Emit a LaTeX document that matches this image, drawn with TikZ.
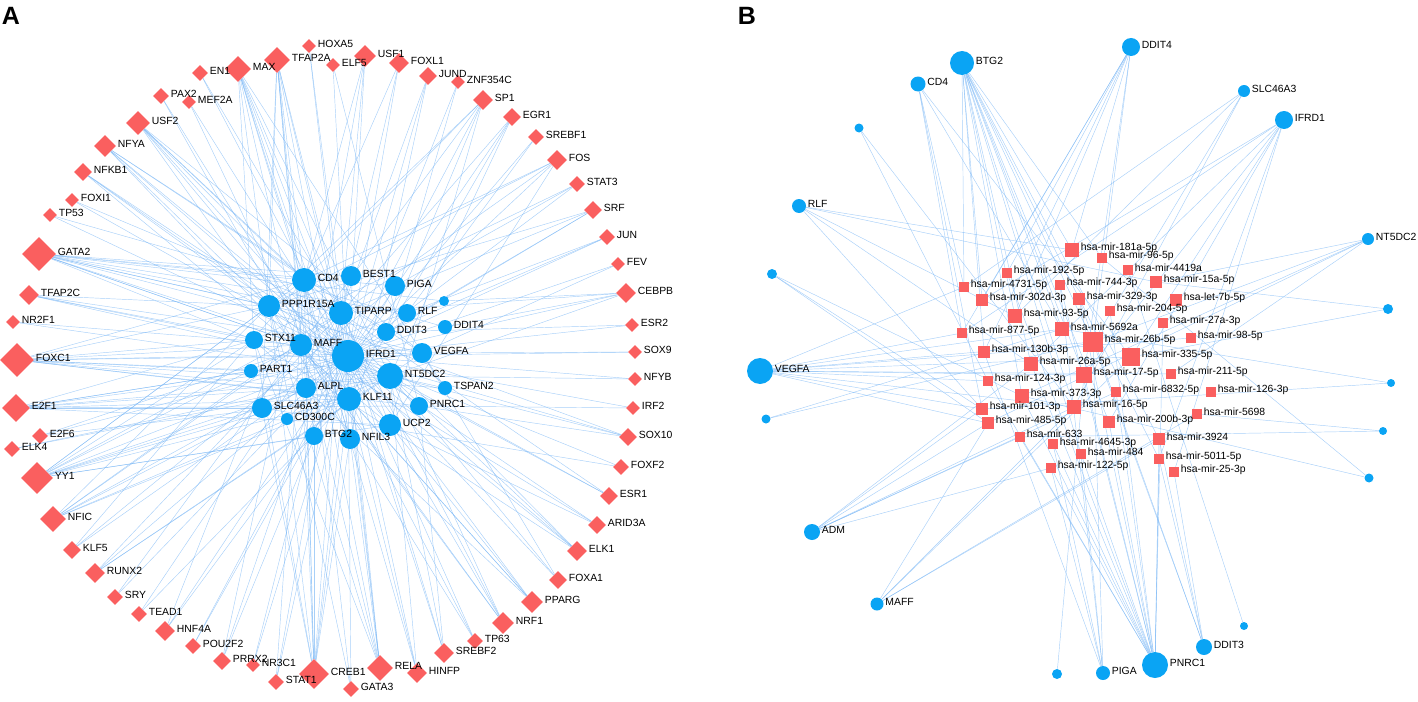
\documentclass[tikz,border=0pt]{standalone}
\usepackage{fontspec}
\setmainfont{Liberation Sans}
\usetikzlibrary{shapes.geometric}
\definecolor{tfred}{RGB}{250,95,95}
\definecolor{gblue}{RGB}{10,164,244}
\definecolor{eblue}{RGB}{110,176,244}
\pgfdeclarelayer{bg}
\pgfsetlayers{bg,main}
\newcommand\lnk[2]{\foreach \g in {#2}{\draw[edge] (#1) -- (\g);}}
\begin{document}
\begin{tikzpicture}[x=1pt,y=-1pt, font=\fontsize{10.4}{12}\selectfont,
 tf/.style={diamond, aspect=1, fill=tfred, inner sep=0pt, minimum size=#1},
 gn/.style={circle, fill=gblue, inner sep=0pt, minimum size=#1},
 mi/.style={rectangle, fill=tfred, inner sep=0pt, minimum size=#1},
 edge/.style={draw=eblue, line width=0.45pt, opacity=0.6},
 panel/.style={font=\fontsize{25}{30}\selectfont\bfseries, inner sep=0pt},
 lab/.style={anchor=west, inner sep=0.5pt, xshift=1pt, yshift=2pt}]
\useasboundingbox (0,0) rectangle (1418,701);

\node[panel] (labA) at (11,16) {A};
\node[panel] (labB) at (747,16) {B};

% ---------- Panel A: transcription factors ----------
\node[tf=14] (tHOXA5) at (309,46) {};
\node[tf=26] (tTFAP2A) at (277,60) {};
\node[tf=14] (tELF5) at (333,65) {};
\node[tf=26] (tMAX) at (238,69) {};
\node[tf=16] (tEN1) at (200,73) {};
\node[tf=16] (tPAX2) at (161,96) {};
\node[tf=14] (tMEF2A) at (189,102) {};
\node[tf=24] (tUSF2) at (138,123) {};
\node[tf=22] (tNFYA) at (105,146) {};
\node[tf=18] (tNFKB1) at (83,172) {};
\node[tf=14] (tFOXI1) at (72,200) {};
\node[tf=14] (tTP53) at (50,215) {};
\node[tf=34] (tGATA2) at (39,254) {};
\node[tf=20] (tTFAP2C) at (29,295) {};
\node[tf=14] (tNR2F1) at (13,322) {};
\node[tf=34] (tFOXC1) at (17,360) {};
\node[tf=28] (tE2F1) at (16,408) {};
\node[tf=16] (tE2F6) at (40,436) {};
\node[tf=16] (tELK4) at (12,449) {};
\node[tf=32] (tYY1) at (37,478) {};
\node[tf=26] (tNFIC) at (53,519) {};
\node[tf=18] (tKLF5) at (72,550) {};
\node[tf=20] (tRUNX2) at (95,573) {};
\node[tf=16] (tSRY) at (115,597) {};
\node[tf=16] (tTEAD1) at (139,614) {};
\node[tf=20] (tHNF4A) at (165,631) {};
\node[tf=16] (tPOU2F2) at (193,646) {};
\node[tf=18] (tPRRX2) at (222,661) {};
\node[tf=14] (tNR3C1) at (253,665) {};
\node[tf=16] (tSTAT1) at (276,682) {};
\node[tf=30] (tCREB1) at (314,674) {};
\node[tf=16] (tGATA3) at (351,689) {};
\node[tf=26] (tRELA) at (380,668) {};
\node[tf=20] (tHINFP) at (417,673) {};
\node[tf=20] (tSREBF2) at (444,653) {};
\node[tf=16] (tTP63) at (475,641) {};
\node[tf=22] (tNRF1) at (503,623) {};
\node[tf=22] (tPPARG) at (532,602) {};
\node[tf=18] (tFOXA1) at (558,580) {};
\node[tf=20] (tELK1) at (577,551) {};
\node[tf=18] (tARID3A) at (597,525) {};
\node[tf=18] (tESR1) at (609,496) {};
\node[tf=16] (tFOXF2) at (621,467) {};
\node[tf=18] (tSOX10) at (628,437) {};
\node[tf=14] (tIRF2) at (633,408) {};
\node[tf=14] (tNFYB) at (635,379) {};
\node[tf=14] (tSOX9) at (635,352) {};
\node[tf=14] (tESR2) at (632,325) {};
\node[tf=20] (tCEBPB) at (626,293) {};
\node[tf=14] (tFEV) at (618,264) {};
\node[tf=16] (tJUN) at (607,237) {};
\node[tf=18] (tSRF) at (593,210) {};
\node[tf=16] (tSTAT3) at (577,184) {};
\node[tf=20] (tFOS) at (557,160) {};
\node[tf=16] (tSREBF1) at (536,137) {};
\node[tf=18] (tEGR1) at (512,117) {};
\node[tf=20] (tSP1) at (483,100) {};
\node[tf=14] (tZNF) at (458,82) {};
\node[tf=18] (tJUND) at (428,76) {};
\node[tf=20] (tFOXL1) at (399,63) {};
\node[tf=22] (tUSF1) at (365,56) {};

% ---------- Panel A: genes ----------
\node[gn=24] (cd4) at (304,280) {};
\node[gn=20] (best) at (351,276) {};
\node[gn=20] (piga) at (395,286) {};
\node[gn=22] (ppp) at (269,306) {};
\node[gn=24] (tip) at (341,313) {};
\node[gn=10] (u0) at (444,301) {};
\node[gn=18] (rlf) at (407,313) {};
\node[gn=14] (dd4) at (445,327) {};
\node[gn=18] (dd3) at (386,332) {};
\node[gn=18] (stx) at (254,340) {};
\node[gn=22] (maff) at (301,345) {};
\node[gn=32] (ifr) at (348,356) {};
\node[gn=20] (veg) at (422,353) {};
\node[gn=14] (part) at (251,371) {};
\node[gn=26] (nt5) at (390,376) {};
\node[gn=14] (tsp) at (445,388) {};
\node[gn=20] (alpl) at (306,388) {};
\node[gn=24] (klf) at (349,399) {};
\node[gn=20] (slc) at (262,408) {};
\node[gn=18] (pnrc) at (419,406) {};
\node[gn=12] (cd3) at (287,419) {};
\node[gn=22] (ucp) at (390,425) {};
\node[gn=18] (btg) at (314,436) {};
\node[gn=20] (nfil) at (350,439) {};

% ---------- Panel B: genes ----------
\node[gn=24] (bBTG2) at (962,63) {};
\node[gn=15] (bCD4) at (918,84) {};
\node[gn=9] (bu1) at (859,128) {};
\node[gn=14] (bRLF) at (799,206) {};
\node[gn=10] (bu2) at (772,274) {};
\node[gn=18] (bDDIT4) at (1131,47) {};
\node[gn=12] (bSLC) at (1244,91) {};
\node[gn=18] (bIFRD1) at (1284,120) {};
\node[gn=12] (bNT5) at (1368,239) {};
\node[gn=10] (bu3) at (1388,309) {};
\node[gn=26] (bVEGFA) at (760,371) {};
\node[gn=9] (bu4) at (766,419) {};
\node[gn=16] (bADM) at (812,532) {};
\node[gn=13] (bMAFF) at (877,604) {};
\node[gn=10] (bu5) at (1057,674) {};
\node[gn=8] (bu6) at (1391,383) {};
\node[gn=8] (bu7) at (1383,431) {};
\node[gn=9] (bu8) at (1369,478) {};
\node[gn=8] (bu9) at (1244,626) {};
\node[gn=16] (bDDIT3) at (1204,647) {};
\node[gn=26] (bPNRC1) at (1155,665) {};
\node[gn=14] (bPIGA) at (1103,673) {};

% ---------- Panel B: miRNAs ----------
\node[mi=14] (m181a) at (1072,250) {};
\node[mi=10] (m96) at (1102,258) {};
\node[mi=10] (m4419) at (1128,270) {};
\node[mi=10] (m192) at (1007,273) {};
\node[mi=10] (m744) at (1060,285) {};
\node[mi=12] (m15a) at (1156,282) {};
\node[mi=10] (m4731) at (964,287) {};
\node[mi=12] (m302d) at (982,300) {};
\node[mi=12] (m329) at (1079,299) {};
\node[mi=12] (l7b) at (1176,300) {};
\node[mi=14] (m93) at (1015,316) {};
\node[mi=10] (m204) at (1110,311) {};
\node[mi=10] (m27a) at (1163,323) {};
\node[mi=10] (m877) at (962,333) {};
\node[mi=14] (m5692) at (1062,329) {};
\node[mi=20] (m26b) at (1093,342) {};
\node[mi=10] (m98) at (1191,338) {};
\node[mi=12] (m130b) at (984,352) {};
\node[mi=18] (m335) at (1131,357) {};
\node[mi=14] (m26a) at (1031,364) {};
\node[mi=16] (m17) at (1084,375) {};
\node[mi=10] (m211) at (1171,374) {};
\node[mi=10] (m124) at (988,381) {};
\node[mi=10] (m6832) at (1116,392) {};
\node[mi=10] (m126) at (1211,392) {};
\node[mi=14] (m373) at (1022,396) {};
\node[mi=12] (m101) at (982,409) {};
\node[mi=14] (m16) at (1074,407) {};
\node[mi=10] (m5698) at (1197,414) {};
\node[mi=12] (m485) at (988,423) {};
\node[mi=12] (m200b) at (1109,422) {};
\node[mi=10] (m633) at (1020,437) {};
\node[mi=12] (m3924) at (1159,439) {};
\node[mi=10] (m4645) at (1053,444) {};
\node[mi=10] (m484) at (1081,454) {};
\node[mi=10] (m5011) at (1159,459) {};
\node[mi=10] (m122) at (1051,468) {};
\node[mi=10] (m25) at (1174,472) {};

% ---------- labels (drawn above all shapes) ----------
\foreach \n/\t in {tHOXA5/HOXA5, tTFAP2A/TFAP2A, tELF5/ELF5, tMAX/MAX, tEN1/EN1,
  tPAX2/PAX2, tMEF2A/MEF2A, tUSF2/USF2, tNFYA/NFYA, tNFKB1/NFKB1, tFOXI1/FOXI1,
  tTP53/TP53, tGATA2/GATA2, tTFAP2C/TFAP2C, tNR2F1/NR2F1, tFOXC1/FOXC1, tE2F1/E2F1,
  tE2F6/E2F6, tELK4/ELK4, tYY1/YY1, tNFIC/NFIC, tKLF5/KLF5, tRUNX2/RUNX2, tSRY/SRY,
  tTEAD1/TEAD1, tHNF4A/HNF4A, tPOU2F2/POU2F2, tPRRX2/PRRX2, tNR3C1/NR3C1, tSTAT1/STAT1,
  tCREB1/CREB1, tGATA3/GATA3, tRELA/RELA, tHINFP/HINFP, tSREBF2/SREBF2, tTP63/TP63,
  tNRF1/NRF1, tPPARG/PPARG, tFOXA1/FOXA1, tELK1/ELK1, tARID3A/ARID3A, tESR1/ESR1,
  tFOXF2/FOXF2, tSOX10/SOX10, tIRF2/IRF2, tNFYB/NFYB, tSOX9/SOX9, tESR2/ESR2,
  tCEBPB/CEBPB, tFEV/FEV, tJUN/JUN, tSRF/SRF, tSTAT3/STAT3, tFOS/FOS, tSREBF1/SREBF1,
  tEGR1/EGR1, tSP1/SP1, tZNF/ZNF354C, tJUND/JUND, tFOXL1/FOXL1, tUSF1/USF1,
  cd4/CD4, best/BEST1, piga/PIGA, ppp/PPP1R15A, tip/TIPARP, rlf/RLF, dd4/DDIT4,
  dd3/DDIT3, stx/STX11, maff/MAFF, ifr/IFRD1, veg/VEGFA, part/PART1, nt5/NT5DC2,
  tsp/TSPAN2, alpl/ALPL, klf/KLF11, slc/SLC46A3, pnrc/PNRC1, cd3/CD300C, ucp/UCP2,
  btg/BTG2, nfil/NFIL3,
  bBTG2/BTG2, bCD4/CD4, bRLF/RLF, bDDIT4/DDIT4, bSLC/SLC46A3, bIFRD1/IFRD1,
  bNT5/NT5DC2, bVEGFA/VEGFA, bADM/ADM, bMAFF/MAFF, bDDIT3/DDIT3, bPNRC1/PNRC1, bPIGA/PIGA,
  m181a/hsa-mir-181a-5p, m96/hsa-mir-96-5p, m4419/hsa-mir-4419a, m192/hsa-mir-192-5p,
  m744/hsa-mir-744-3p, m15a/hsa-mir-15a-5p, m4731/hsa-mir-4731-5p, m302d/hsa-mir-302d-3p,
  m329/hsa-mir-329-3p, l7b/hsa-let-7b-5p, m93/hsa-mir-93-5p, m204/hsa-mir-204-5p,
  m27a/hsa-mir-27a-3p, m877/hsa-mir-877-5p, m5692/hsa-mir-5692a, m26b/hsa-mir-26b-5p,
  m98/hsa-mir-98-5p, m130b/hsa-mir-130b-3p, m335/hsa-mir-335-5p, m26a/hsa-mir-26a-5p,
  m17/hsa-mir-17-5p, m211/hsa-mir-211-5p, m124/hsa-mir-124-3p, m6832/hsa-mir-6832-5p,
  m126/hsa-mir-126-3p, m373/hsa-mir-373-3p, m101/hsa-mir-101-3p, m16/hsa-mir-16-5p,
  m5698/hsa-mir-5698, m485/hsa-mir-485-5p, m200b/hsa-mir-200b-3p, m3924/hsa-mir-3924,
  m484/hsa-mir-484, m5011/hsa-mir-5011-5p, m122/hsa-mir-122-5p, m25/hsa-mir-25-3p}
  {\node[lab] (l-\n) at (\n.east) {\t};}
\node[lab, yshift=1pt] (l-m633) at (m633.east) {hsa-mir-633};
\node[lab, yshift=-1pt] (l-m4645) at (m4645.east) {hsa-mir-4645-3p};

% ---------- edges ----------
\begin{pgfonlayer}{bg}
\lnk{tHOXA5}{ifr,klf}
\lnk{tTFAP2A}{cd4,ppp,tip,maff,ifr,alpl,slc,btg,nfil}
\lnk{tELF5}{ifr,pnrc}
\lnk{tMAX}{cd4,ppp,stx,maff,ifr,klf,nt5,ucp,nfil,tsp}
\lnk{tEN1}{tip,ifr}
\lnk{tPAX2}{maff,klf}
\lnk{tMEF2A}{ifr,nfil}
\lnk{tUSF2}{cd4,ppp,tip,ifr,nt5,veg,ucp}
\lnk{tNFYA}{ppp,ifr,dd3,veg,klf,pnrc}
\lnk{tNFKB1}{ppp,ifr,nt5,ucp}
\lnk{tFOXI1}{tip,ifr}
\lnk{tTP53}{ifr,dd4}
\lnk{tGATA2}{cd4,best,piga,ppp,tip,rlf,dd3,ifr,veg,nt5,maff,stx,u0}
\lnk{tTFAP2C}{ppp,stx,ifr,veg,tsp}
\lnk{tNR2F1}{maff,nt5}
\lnk{tFOXC1}{cd4,ppp,stx,maff,ifr,nt5,veg,klf,alpl,part,tsp,pnrc}
\lnk{tE2F1}{stx,part,alpl,slc,ifr,klf,nt5,ucp,pnrc,veg}
\lnk{tE2F6}{ifr,klf,rlf}
\lnk{tELK4}{nt5,alpl}
\lnk{tYY1}{ppp,stx,maff,ifr,klf,alpl,slc,nt5,ucp,tip,cd4,btg}
\lnk{tNFIC}{ifr,klf,maff,nt5,tip,alpl,ppp}
\lnk{tKLF5}{ifr,cd4,piga}
\lnk{tRUNX2}{ifr,nt5,tip,veg}
\lnk{tSRY}{ifr,maff}
\lnk{tTEAD1}{klf,tip}
\lnk{tHNF4A}{ifr,dd3,cd4}
\lnk{tPOU2F2}{ifr,piga}
\lnk{tPRRX2}{ifr,cd4,tip}
\lnk{tNR3C1}{ifr,best}
\lnk{tSTAT1}{cd4,ifr,tip}
\lnk{tCREB1}{cd4,ppp,stx,maff,ifr,klf,alpl,slc,btg,nfil,tip}
\lnk{tGATA3}{ppp,ifr,cd4}
\lnk{tRELA}{cd4,stx,ppp,maff,ifr,klf,nfil,tip}
\lnk{tHINFP}{ifr,nt5,klf,cd4}
\lnk{tSREBF2}{ifr,nt5,tip,pnrc}
\lnk{tTP63}{ifr,klf,ppp}
\lnk{tNRF1}{ppp,ifr,nt5,maff,tip}
\lnk{tPPARG}{ifr,klf,maff,stx,ucp}
\lnk{tFOXA1}{ifr,nt5,veg}
\lnk{tELK1}{ifr,ppp,stx,nt5,tip}
\lnk{tARID3A}{ifr,maff,ucp}
\lnk{tESR1}{ifr,nt5,tip}
\lnk{tFOXF2}{ifr,slc}
\lnk{tSOX10}{ifr,pnrc,ppp,nt5}
\lnk{tIRF2}{pnrc,ifr}
\lnk{tNFYB}{nt5,ifr}
\lnk{tSOX9}{ifr,veg}
\lnk{tESR2}{ifr,dd3}
\lnk{tCEBPB}{ifr,dd4,tip,nt5,u0}
\lnk{tFEV}{ifr,veg}
\lnk{tJUN}{ifr,rlf,dd3}
\lnk{tSRF}{ifr,tip,ppp,dd3}
\lnk{tSTAT3}{ifr,piga,stx}
\lnk{tFOS}{ifr,cd4,tip,ppp,ucp}
\lnk{tSREBF1}{ifr,rlf}
\lnk{tEGR1}{ifr,tip,klf,nt5}
\lnk{tSP1}{ifr,ppp,cd4,maff,dd3,ucp}
\lnk{tZNF}{ifr,dd3}
\lnk{tJUND}{tip,ifr,nfil}
\lnk{tFOXL1}{ifr,cd4,tip}
\lnk{tUSF1}{ifr,tip,cd4,alpl}
% panel B
\lnk{bBTG2}{m181a,m96,m4731,m302d,m93,m5692,m26b,m130b,m26a,m17,m373,m16,m200b,m3924,m5011,m484}
\lnk{bCD4}{m4731,m877,m101,m5692,m335}
\lnk{bu1}{m124,m16}
\lnk{bRLF}{m181a,m15a,m93,m26a,m101}
\lnk{bu2}{m101,m485,m373}
\lnk{bDDIT4}{m181a,m192,m302d,m93,m877,m26b,m17,m130b}
\lnk{bSLC}{m4731,m93,m26b,m16}
\lnk{bIFRD1}{m302d,m877,m26a,m17,m335,m200b,m25,m5011}
\lnk{bNT5}{m15a,m26b,m373,m485,m211}
\lnk{bu3}{m15a,m335}
\lnk{bVEGFA}{m4731,m877,m26b,m335,m17,m124,m101,m485,m16,m5692,m98,m211}
\lnk{bu4}{m26b,m5692}
\lnk{bADM}{m101,m485,m16,m633,m122,m6832,m26a}
\lnk{bMAFF}{m485,m16,m5698,m3924,m335}
\lnk{bu5}{m17}
\lnk{bu6}{m5692,m101}
\lnk{bu7}{m5698,m633}
\lnk{bu8}{m96,m373}
\lnk{bu9}{m4419}
\lnk{bDDIT3}{m26b,m3924,m25,m5011,m329}
\lnk{bPNRC1}{m192,m744,m329,m204,m27a,m17,m26a,m6832,m124,m373,m200b,m4645,m484,m122,m5011,m633,m3924}
\lnk{bPIGA}{m26b,m130b,m744,m122,m484,m4645}
\end{pgfonlayer}
\end{tikzpicture}
\end{document}
